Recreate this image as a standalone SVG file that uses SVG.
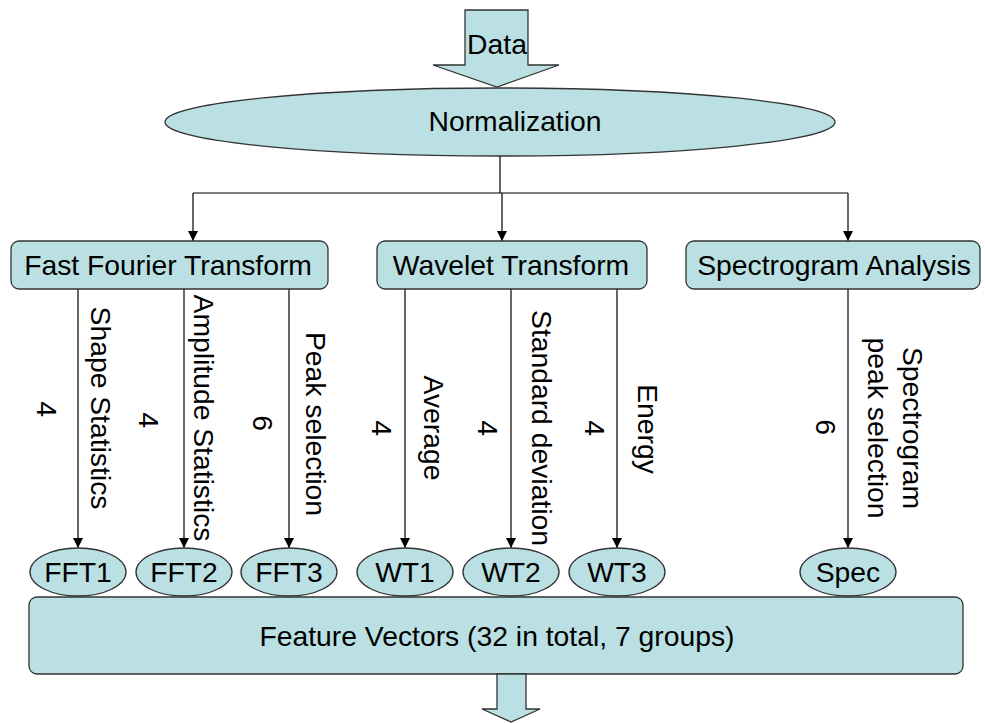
<svg xmlns="http://www.w3.org/2000/svg" width="985" height="723" viewBox="0 0 985 723">
<style>
.shape{fill:#BAE0E3;stroke:#333;stroke-width:1.3}
.t{font-family:"Liberation Sans",Arial,sans-serif;font-size:28.3px;fill:#000;text-anchor:middle;dominant-baseline:central}
.c{stroke:#000;stroke-width:1.2;fill:none;marker-end:url(#ah)}
.l{stroke:#000;stroke-width:1.2;fill:none}
</style>
<defs>
<marker id="ah" viewBox="0 0 10 10" refX="10" refY="5" markerWidth="10" markerHeight="10" markerUnits="userSpaceOnUse" orient="auto">
<path d="M0,0 L10,5 L0,10 z" fill="#000"/>
</marker>
</defs>
<rect width="985" height="723" fill="#fff"/>
<g id="data">
<path class="shape" d="M465,10 L528,10 L528,65 L559,65 L497,87 L433,65 L465,65 Z"/>
<text class="t" x="497" y="44">Data</text>
</g>
<g id="normalization">
<ellipse class="shape" cx="500" cy="122" rx="335" ry="34"/>
<text class="t" x="515" y="121">Normalization</text>
</g>
<g id="connectors">
<path class="l" d="M500,156 L500,193"/>
<path class="l" d="M193,193 L848,193"/>
<path class="c" d="M193,193 L193,241"/>
<path class="c" d="M502,193 L502,241"/>
<path class="c" d="M848,193 L848,241"/>
<path class="c" d="M78,289 L78,548"/>
<path class="c" d="M184,289 L184,548"/>
<path class="c" d="M289,289 L289,548"/>
<path class="c" d="M405,289 L405,548"/>
<path class="c" d="M511,289 L511,548"/>
<path class="c" d="M617,289 L617,548"/>
<path class="c" d="M848,289 L848,548"/>
</g>
<g id="fft">
<rect class="shape" x="11" y="241" width="317" height="48" rx="8"/>
<text class="t" x="168" y="265">Fast Fourier Transform</text>
</g>
<g id="wt">
<rect class="shape" x="377" y="241" width="270" height="48" rx="8"/>
<text class="t" x="511" y="265">Wavelet Transform</text>
</g>
<g id="spec">
<rect class="shape" x="686" y="241" width="294" height="48" rx="8"/>
<text class="t" x="834" y="265">Spectrogram Analysis</text>
</g>
<g id="labels">
<text class="t" transform="translate(47,409) rotate(90)">4</text>
<text class="t" transform="translate(101,408) rotate(90)">Shape Statistics</text>
<text class="t" transform="translate(149,420) rotate(90)">4</text>
<text class="t" transform="translate(204,418) rotate(90)">Amplitude Statistics</text>
<text class="t" transform="translate(263,423) rotate(90)">6</text>
<text class="t" transform="translate(316,424) rotate(90)">Peak selection</text>
<text class="t" transform="translate(382,428) rotate(90)">4</text>
<text class="t" transform="translate(434,428) rotate(90)">Average</text>
<text class="t" transform="translate(488,428) rotate(90)">4</text>
<text class="t" transform="translate(542,428) rotate(90)">Standard deviation</text>
<text class="t" transform="translate(595,428) rotate(90)">4</text>
<text class="t" transform="translate(648,429) rotate(90)">Energy</text>
<text class="t" transform="translate(826,427) rotate(90)">6</text>
<text class="t" transform="translate(913,428) rotate(90)">Spectrogram</text>
<text class="t" transform="translate(878,428) rotate(90)">peak selection</text>
</g>
<g id="fft1">
<ellipse class="shape" cx="78" cy="572" rx="48" ry="24"/>
<text class="t" x="78" y="572">FFT1</text>
</g>
<g id="fft2">
<ellipse class="shape" cx="184" cy="572" rx="48" ry="24"/>
<text class="t" x="184" y="572">FFT2</text>
</g>
<g id="fft3">
<ellipse class="shape" cx="289" cy="572" rx="48" ry="24"/>
<text class="t" x="289" y="572">FFT3</text>
</g>
<g id="wt1">
<ellipse class="shape" cx="405" cy="572" rx="48" ry="24"/>
<text class="t" x="405" y="572">WT1</text>
</g>
<g id="wt2">
<ellipse class="shape" cx="511" cy="572" rx="48" ry="24"/>
<text class="t" x="511" y="572">WT2</text>
</g>
<g id="wt3">
<ellipse class="shape" cx="617" cy="572" rx="48" ry="24"/>
<text class="t" x="617" y="572">WT3</text>
</g>
<g id="specnode">
<ellipse class="shape" cx="848" cy="572" rx="48" ry="24"/>
<text class="t" x="848" y="572">Spec</text>
</g>
<g id="features">
<rect class="shape" x="29" y="597" width="934" height="77" rx="8"/>
<text class="t" x="497" y="636">Feature Vectors (32 in total, 7 groups)</text>
</g>
<g id="output">
<path class="shape" d="M497,674 L526,674 L526,709 L540,709 L511,722 L482,709 L497,709 Z"/>
</g>
</svg>
